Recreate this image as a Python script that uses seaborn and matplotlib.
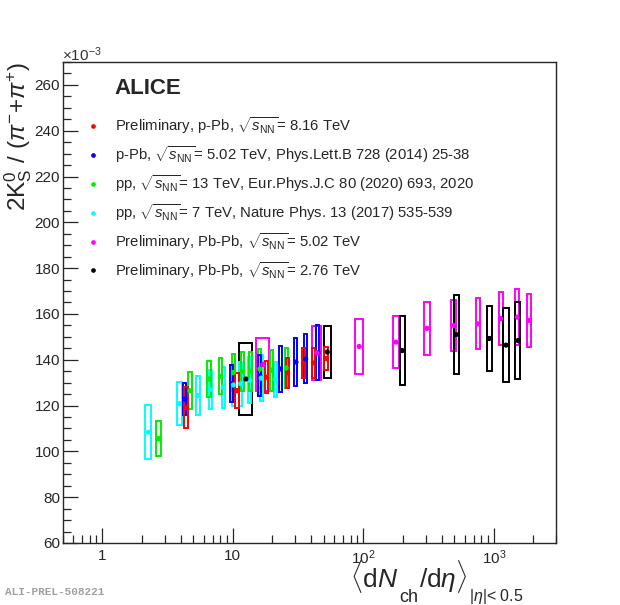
import numpy as np
import pandas as pd
import matplotlib
matplotlib.use("Agg")
import matplotlib.pyplot as plt
from matplotlib.patches import Rectangle
import seaborn as sns

# values in units of 1e-3
# Preliminary p-Pb 8.16 TeV
ppb816_x = [4.4, 10.8, 18.1, 26.3, 34.8, 41.5, 51.9]
ppb816_y = [119.2, 126.5, 132.4, 134.3, 138.6, 138.6, 140.5]
ppb816_sys = [9.1, 7.7, 7.0, 6.6, 6.7, 6.6, 5.0]
ppb816_xsys = [0.17, 0.35, 0.55, 0.8, 1.05, 1.25, 1.55]

# p-Pb 5.02 TeV
ppb502_x = [4.3, 9.8, 16.1, 23.2, 30.5, 36.2, 45.0]
ppb502_y = [122.9, 129.5, 133.0, 136.0, 139.0, 140.4, 143.0]
ppb502_sys = [7.0, 8.0, 9.0, 10.0, 10.6, 10.7, 12.0]
ppb502_xsys = [0.12, 0.26, 0.43, 0.62, 0.82, 0.97, 1.2]

# pp 13 TeV
pp13_x = [2.7, 4.7, 6.56, 8.05, 10.1, 11.9, 13.7, 16.1, 19.8, 25.7]
pp13_y = [105.5, 126.5, 131.6, 132.8, 134.4, 135.0, 135.0, 136.0, 135.4, 136.4]
pp13_sys = [7.7, 8.0, 8.0, 7.9, 8.0, 8.5, 8.5, 8.5, 9.0, 8.7]
pp13_xsys = [0.11, 0.19, 0.26, 0.2, 0.25, 0.3, 0.34, 0.4, 0.5, 0.64]

# pp 7 TeV
pp7_x = [2.26, 3.90, 5.40, 6.72, 8.45, 10.1, 11.5, 13.5, 16.5, 21.3]
pp7_y = [108.4, 120.8, 124.3, 127.0, 128.0, 129.0, 129.5, 131.0, 132.0, 131.4]
pp7_sys = [11.8, 9.5, 8.6, 8.5, 8.9, 9.0, 9.5, 10.0, 10.0, 7.5]
pp7_xsys = [0.12, 0.16, 0.19, 0.18, 0.23, 0.27, 0.31, 0.36, 0.45, 0.58]

# Preliminary Pb-Pb 5.02 TeV
pbpb502_x = [17.0, 44.0, 93.0, 178.0, 308.0, 492.0, 755.0, 1131.0, 1515.0, 1850.0]
pbpb502_y = [137.9, 143.0, 145.8, 147.7, 153.7, 155.0, 155.7, 157.9, 158.6, 157.2]
pbpb502_sys = [11.7, 11.8, 11.9, 11.5, 11.6, 11.3, 11.2, 11.5, 12.1, 11.7]
pbpb502_xsys = [1.9, 3.8, 5.9, 9.3, 16.0, 17.7, 27.0, 38.5, 54.5, 66.6]

# Preliminary Pb-Pb 2.76 TeV
pbpb276_x = [12.6, 53.0, 199.0, 515.0, 927.0, 1242.0, 1534.0]
pbpb276_y = [131.6, 143.4, 144.0, 151.0, 149.3, 146.4, 148.4]
pbpb276_sys = [15.8, 11.3, 15.2, 17.1, 14.1, 16.2, 16.6]
pbpb276_xsys = [1.5, 3.2, 9.0, 23.0, 42.0, 56.0, 69.0]

labels = [
    r"Preliminary, p-Pb, $\sqrt{s_{\mathrm{NN}}}$= 8.16 TeV",
    r"p-Pb, $\sqrt{s_{\mathrm{NN}}}$= 5.02 TeV, Phys.Lett.B 728 (2014) 25-38",
    r"pp, $\sqrt{s_{\mathrm{NN}}}$= 13 TeV, Eur.Phys.J.C 80 (2020) 693, 2020",
    r"pp, $\sqrt{s_{\mathrm{NN}}}$= 7 TeV, Nature Phys. 13 (2017) 535-539",
    r"Preliminary, Pb-Pb, $\sqrt{s_{\mathrm{NN}}}$= 5.02 TeV",
    r"Preliminary, Pb-Pb, $\sqrt{s_{\mathrm{NN}}}$= 2.76 TeV",
]
colors = ["#ff0000", "#0000ff", "#00ee00", "#00ffff", "#ff00ff", "#000000"]

series = [
    (ppb816_x, ppb816_y, ppb816_sys, ppb816_xsys),
    (ppb502_x, ppb502_y, ppb502_sys, ppb502_xsys),
    (pp13_x, pp13_y, pp13_sys, pp13_xsys),
    (pp7_x, pp7_y, pp7_sys, pp7_xsys),
    (pbpb502_x, pbpb502_y, pbpb502_sys, pbpb502_xsys),
    (pbpb276_x, pbpb276_y, pbpb276_sys, pbpb276_xsys),
]

# long-form table for seaborn
rows = []
for lab, (xs, ys, _, _) in zip(labels, series):
    for x, y in zip(xs, ys):
        rows.append({"x": x, "y": y, "set": lab})
df = pd.DataFrame(rows)

sns.set_style("ticks")
plt.rcParams["font.family"] = ["Liberation Sans", "DejaVu Sans"]
plt.rcParams["mathtext.fontset"] = "custom"
plt.rcParams["mathtext.rm"] = "Liberation Sans"
plt.rcParams["mathtext.it"] = "Liberation Sans:italic"
plt.rcParams["mathtext.bf"] = "Liberation Sans:bold"

W, H = 620, 605
fig = plt.figure(figsize=(W / 100, H / 100), dpi=100)
ax = fig.add_axes([0.1016, 0.1025, 0.7952, 0.795])
ax.set_xscale("log")

# systematic boxes, then small stat bars
draw_order = [4, 5, 3, 2, 1, 0]
for k, i in enumerate(draw_order):
    xs, ys, sys_, xsys = series[i]
    for x, y, s, xe in zip(xs, ys, sys_, xsys):
        ax.add_patch(Rectangle((x - xe, y - s), 2 * xe, 2 * s, fill=False,
                               edgecolor=colors[i], linewidth=1.4, zorder=2 + k * 0.1))
    ax.errorbar(xs, ys, yerr=1.0, fmt="none", ecolor=colors[i], elinewidth=1.2, zorder=3)

sns.scatterplot(data=df, x="x", y="y", hue="set", hue_order=labels, palette=colors,
                s=14, edgecolor="none", ax=ax, zorder=4, legend=True)

ax.set_xlim(0.5, 3000)
ax.set_ylim(60, 270)
ax.set_yticks(np.arange(60, 261, 20))
ax.set_yticks(np.arange(60, 271, 5), minor=True)
ax.set_xticks([1, 10, 100, 1000], labels=["1", "10", r"$10^{2}$", r"$10^{3}$"])
ax.tick_params(axis="both", which="major", direction="in", length=11, width=0.9, labelsize=11)
ax.tick_params(axis="both", which="minor", direction="in", length=5.5, width=0.9)
ax.tick_params(axis="x", which="major", pad=4)
ax.tick_params(axis="y", which="major", pad=2)
for sp in ax.spines.values():
    sp.set_linewidth(1.0)
ax.set_xlabel("")
ax.set_ylabel("")

# y title
fig.text(0.003, 0.8975, r"2K$^{0}_{\mathrm{S}}$ / ($\pi^{-}$+$\pi^{+}$)", fontsize=17.5,
         rotation=90, ha="left", va="top")

# legend
handles, labs = ax.get_legend_handles_labels()
ax.legend(handles, labs, loc="upper left", bbox_to_anchor=(0.1376, 0.8093),
          bbox_transform=fig.transFigure, frameon=False, fontsize=10.7,
          handletextpad=1.0, handlelength=1.0, labelspacing=0.57, markerscale=0.9,
          borderaxespad=0, borderpad=0)

fig.text(0.185, 0.853, "ALICE", fontsize=16, fontweight="bold", va="center", ha="left")
fig.text(0.100, 0.910, r"$\times$10$^{-3}$", fontsize=11, va="center", ha="left", color="#333333")

# x title built from pieces so the subscripts sit low, ROOT-like
renderer = fig.canvas.get_renderer()
pieces = [
    (r"$\langle\mathrm{d}N$", 19, 587),
    ("ch", 13, 602),
    (r"$/\mathrm{d}\eta\rangle$", 19, 587),
    (r"$|\eta|$< 0.5", 11.5, 601),
]
xpos = 350
for txt, size, base in pieces:
    t = fig.text(xpos / W, 1 - base / H, txt, fontsize=size, ha="left", va="baseline")
    bb = t.get_window_extent(renderer)
    xpos = bb.x1 + 1

fig.text(0.008, 0.013, "ALI-PREL-508221", fontsize=8, fontweight="bold",
         family="Liberation Mono", color="#a0a0a0", ha="left", va="bottom")

fig.savefig("out.png", dpi=100)
